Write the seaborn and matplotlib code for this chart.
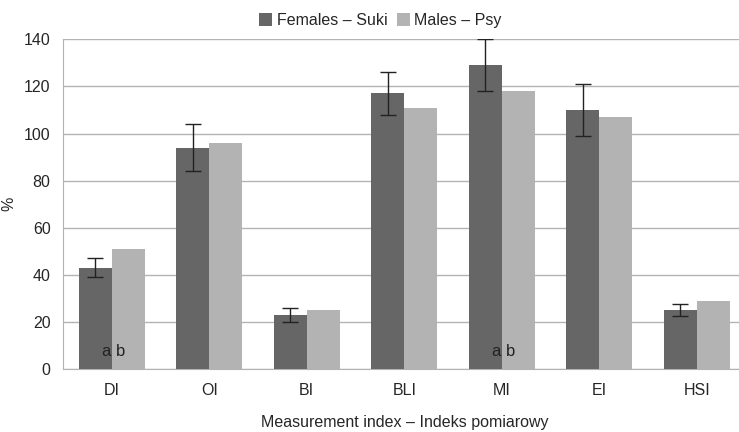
import matplotlib
matplotlib.use('Agg')
import matplotlib.pyplot as plt
import seaborn as sns
import numpy as np
import pandas as pd

kategorie = ['DI', 'OI', 'BI', 'BLI', 'MI', 'EI', 'HSI']
samice = [43, 94, 23, 117, 129, 110, 25]
samice_sd = [4, 10, 3, 9, 11, 11, 2.5]
samce = [51, 96, 25, 111, 118, 107, 29]
serie = ['Females – Suki', 'Males – Psy']
oznaczenia = {'DI': 'a b', 'MI': 'a b'}

sns.set_style('white')
plt.rcParams['font.family'] = ['Liberation Sans', 'DejaVu Sans']

df = pd.DataFrame({
    'indeks': kategorie * 2,
    'wartosc': samice + samce,
    'grupa': [serie[0]] * len(kategorie) + [serie[1]] * len(kategorie),
})

# prawa krawedz wykresu wychodzi poza obraz (jak w oryginale)
fig = plt.figure(figsize=(7.39, 4.32), dpi=100)
ax = fig.add_axes([0.0853, 0.1458, 0.9235, 0.7632])
sns.barplot(data=df, x='indeks', y='wartosc', hue='grupa', order=kategorie,
            hue_order=serie, palette=['#666666', '#b3b3b3'], width=0.68,
            saturation=1, errorbar=None, linewidth=0, ax=ax, zorder=3)

# slupki bledow tylko dla samic
pierwsze = ax.containers[0]
xs = [p.get_x() + p.get_width() / 2 for p in pierwsze]
ax.errorbar(xs, samice, yerr=samice_sd, fmt='none', ecolor='#222222',
            elinewidth=1, capsize=6, capthick=1, zorder=4)

for i, k in enumerate(kategorie):
    if k in oznaczenia:
        ax.text(i + 0.02, 7.6, oznaczenia[k], ha='center', va='center',
                fontsize=12, color='#222222', zorder=5)

ax.set_ylim(0, 140)
ax.set_xlim(-0.5, len(kategorie) - 0.5)
ax.set_yticks(np.arange(0, 141, 20))
ax.yaxis.grid(True, color='#b3b3b3', linewidth=1)
ax.set_axisbelow(True)
for s in ['top', 'right']:
    ax.spines[s].set_visible(False)
ax.spines['left'].set_color('#b3b3b3')
ax.spines['bottom'].set_color('#b3b3b3')
ax.tick_params(axis='y', length=6, color='#b3b3b3', labelsize=11.5, pad=3)
ax.tick_params(axis='x', which='major', length=0, labelsize=11.5, pad=10)
ax.set_xticks(np.arange(-0.5, len(kategorie), 1), minor=True)
ax.tick_params(axis='x', which='minor', length=5, color='#b3b3b3')

ax.set_xlabel('Measurement index – Indeks pomiarowy', fontsize=11.5, labelpad=12)
ax.set_ylabel('%', fontsize=11.5)
ax.yaxis.set_label_coords(-0.068, 0.5)

ax.legend(loc='lower center', bbox_to_anchor=(0.465, 1.0), ncol=2, frameon=False,
          fontsize=11.5, handlelength=0.8, handleheight=0.8, handletextpad=0.3,
          columnspacing=0.6, borderaxespad=0.3)

fig.savefig('out.png', dpi=100)
